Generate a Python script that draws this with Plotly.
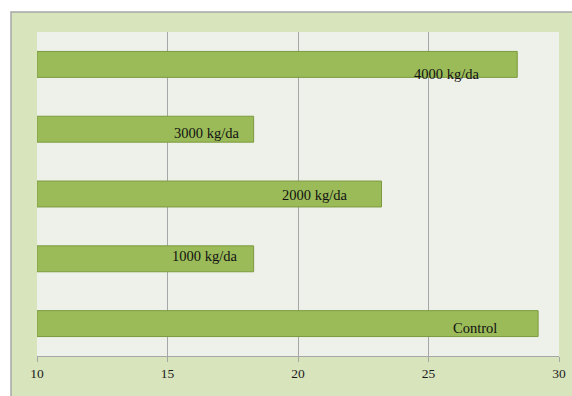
import plotly.graph_objects as go

# Treatment groups (bottom to top) and measured values
categories = ["Control", "1000 kg/da", "2000 kg/da", "3000 kg/da", "4000 kg/da"]
values = [29.2, 18.3, 23.2, 18.3, 28.4]
# Where each category label sits along the value axis
label_x = [26.8, 16.4, 20.65, 16.5, 25.7]
label_shift = [-4, 3, -1, -4, -10]
tick_vals = [10, 15, 20, 25, 30]

positions = list(range(len(categories)))

fig = go.Figure()
fig.add_trace(go.Bar(
    x=[v - 10 for v in values],
    base=10,
    y=positions,
    orientation="h",
    width=0.4,
    marker=dict(color="#9bbb59", line=dict(color="#7b9a3e", width=1)),
    hoverinfo="skip",
))

for p, name, lx, ls in zip(positions, categories, label_x, label_shift):
    fig.add_annotation(
        x=lx, y=p, xref="x", yref="y", text=name, showarrow=False,
        yshift=ls,
        font=dict(family="Liberation Serif", size=14.5, color="#111111"),
    )

# Outer chart panel
fig.add_shape(
    type="rect", xref="paper", yref="paper",
    x0=-26 / 522, x1=20 / 522 + 1, y0=-50 / 324, y1=1 + 20 / 324,
    fillcolor="#d8e4bc", line=dict(color="#a6a6a6", width=1.5),
    layer="below",
)
# Inner plotting area fill
fig.add_shape(
    type="rect", xref="paper", yref="paper",
    x0=0, x1=1, y0=0, y1=1,
    fillcolor="#eef1e9", line=dict(width=0),
    layer="below",
)

fig.update_layout(
    width=572, height=396,
    autosize=False,
    margin=dict(l=37, r=13, t=32, b=40, autoexpand=False),
    paper_bgcolor="white",
    plot_bgcolor="#eef1e9",
    showlegend=False,
    bargap=0.6,
    xaxis=dict(
        range=[10, 30], tickvals=tick_vals, ticktext=[str(t) for t in tick_vals],
        showgrid=True, gridcolor="#a6a6a6", gridwidth=1,
        showline=True, linecolor="#a6a6a6", linewidth=1,
        ticks="outside", ticklen=5, tickcolor="#a6a6a6",
        tickfont=dict(family="Liberation Serif", size=13.5, color="#1a1a1a"),
        zeroline=False, fixedrange=True, automargin=False,
    ),
    yaxis=dict(
        range=[-0.5, 4.5], showticklabels=False, showgrid=False,
        zeroline=False, showline=False, fixedrange=True, automargin=False,
    ),
)

fig.write_html("out.html")
